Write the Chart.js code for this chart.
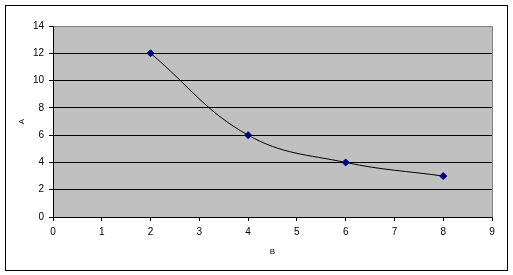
<!DOCTYPE html>
<html>
<head>
<meta charset="utf-8">
<script src="https://cdn.jsdelivr.net/npm/chart.js@4/dist/chart.umd.min.js"></script>
<style>
  html, body { margin: 0; padding: 0; background: #fff; }
  canvas { display: block; }
</style>
</head>
<body>
<canvas id="grafico" width="513" height="275"></canvas>
<script>
const xValues = [2, 4, 6, 8];
const yValues = [12, 6, 4, 3];
const xTitle = 'B';
const yTitle = 'A';

const fundo = {
    id: 'fundo',
    beforeDraw(chart) {
        const { ctx, chartArea: a } = chart;
        ctx.save();
        ctx.fillStyle = '#fff';
        ctx.fillRect(0, 0, chart.width, chart.height);
        ctx.fillStyle = '#c0c0c0';
        ctx.fillRect(a.left, a.top, a.right - a.left, a.bottom - a.top);
        ctx.strokeStyle = '#000';
        ctx.lineWidth = 1;
        ctx.strokeRect(5.5, 5.5, 502, 265);
        ctx.restore();
    },
    beforeDatasetsDraw(chart) {
        const { ctx, chartArea: a } = chart;
        ctx.save();
        ctx.strokeStyle = '#808080';
        ctx.lineWidth = 1;
        ctx.beginPath();
        ctx.moveTo(Math.round(a.left) + 0.5, Math.round(a.top) + 0.5);
        ctx.lineTo(Math.round(a.right) + 0.5, Math.round(a.top) + 0.5);
        ctx.lineTo(Math.round(a.right) + 0.5, Math.round(a.bottom) + 0.5);
        ctx.stroke();
        ctx.restore();
    }
};

const fonte = { family: 'Arial, "Liberation Sans", sans-serif', size: 10 };

new Chart(document.getElementById('grafico').getContext('2d'), {
    type: 'scatter',
    data: {
        datasets: [{
            data: xValues.map((x, i) => ({ x: x, y: yValues[i] })),
            showLine: true,
            borderColor: '#000',
            borderWidth: 1,
            tension: 0.4,
            pointStyle: 'rectRot',
            pointRadius: 3.5,
            pointBackgroundColor: '#000080',
            pointBorderColor: '#000080',
            pointBorderWidth: 1
        }]
    },
    options: {
        responsive: false,
        animation: false,
        layout: { padding: { left: 0, top: 26, right: 21, bottom: 0 } },
        plugins: { legend: { display: false }, tooltip: { enabled: false } },
        scales: {
            x: {
                type: 'linear',
                min: 0, max: 9,
                afterFit: (s) => { s.height = 58; },
                ticks: { stepSize: 1, color: '#000', font: fonte, padding: 5, maxRotation: 0 },
                grid: { drawOnChartArea: false, drawTicks: true, tickLength: 4, color: '#000' },
                border: { color: '#000', width: 1 },
                title: { display: true, text: xTitle, color: '#000', font: { ...fonte, size: 8 }, padding: { top: 0, bottom: 18 } }
            },
            y: {
                min: 0, max: 14,
                afterFit: (s) => { s.width = 53; },
                ticks: { stepSize: 2, color: '#000', font: fonte, padding: 5 },
                grid: { color: '#000', tickLength: 4, lineWidth: 1 },
                border: { color: '#000', width: 1 },
                title: { display: true, text: yTitle, color: '#000', font: { ...fonte, size: 8 }, padding: { top: 17, bottom: 0 } }
            }
        }
    },
    plugins: [fundo]
});
</script>
</body>
</html>
